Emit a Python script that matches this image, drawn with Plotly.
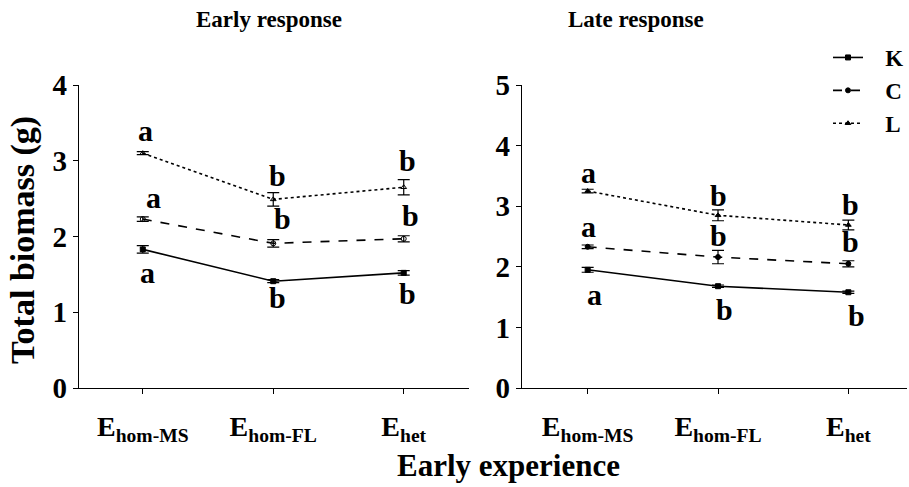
import plotly.graph_objects as go

categories = ["E<sub>hom-MS</sub>", "E<sub>hom-FL</sub>", "E<sub>het</sub>"]
series_names = ["K", "C", "L"]

# Early response
early_K = [1.83, 1.41, 1.52]
early_C = [2.23, 1.91, 1.97]
early_L = [3.10, 2.49, 2.65]
early_K_err = [0.05, 0.02, 0.03]
early_C_err = [0.03, 0.05, 0.04]
early_L_err = [0.02, 0.09, 0.10]

# Late response
late_K = [1.95, 1.68, 1.58]
late_C = [2.33, 2.16, 2.05]
late_L = [3.25, 2.85, 2.69]
late_K_err = [0.04, 0.02, 0.02]
late_C_err = [0.03, 0.11, 0.05]
late_L_err = [0.03, 0.09, 0.08]

# Significance letters (letter, category index, x offset, y value)
early_letters = [
    ("a", 0, 0.02, 3.40), ("b", 1, 0.03, 2.81), ("b", 2, 0.03, 3.00),
    ("a", 0, 0.08, 2.52), ("b", 1, 0.07, 2.24), ("b", 2, 0.05, 2.28),
    ("a", 0, 0.04, 1.52), ("b", 1, 0.03, 1.19), ("b", 2, 0.03, 1.25),
]
late_letters = [
    ("a", 0, 0.01, 3.56), ("b", 1, 0.0, 3.18), ("b", 2, 0.02, 3.02),
    ("a", 0, 0.01, 2.66), ("b", 1, 0.0, 2.52), ("b", 2, 0.02, 2.41),
    ("a", 0, 0.05, 1.55), ("b", 1, 0.05, 1.29), ("b", 2, 0.06, 1.20),
]

FONT = "Liberation Serif"
xs = [0, 1, 2]
dashes = {"K": "solid", "C": "dash", "L": "dot"}
PAD = "\u00a0\u00a0\u00a0"

fig = go.Figure()

def add_series(name, vals, errs, xaxis, yaxis, symbol, showlegend):
    fig.add_trace(go.Scatter(
        x=xs, y=vals, name=PAD + name, mode="lines+markers",
        xaxis=xaxis, yaxis=yaxis, showlegend=showlegend,
        line=dict(color="black", width=1.6, dash=dashes[name]),
        marker=dict(symbol=symbol, size=5, color="black",
                    line=dict(color="black", width=1)),
        error_y=dict(type="data", array=errs, visible=True,
                     color="black", thickness=1.2, width=6),
    ))

add_series("K", early_K, early_K_err, "x", "y", "square", False)
add_series("C", early_C, early_C_err, "x", "y", "circle-open", False)
add_series("L", early_L, early_L_err, "x", "y", "triangle-up-open", False)
add_series("K", late_K, late_K_err, "x2", "y2", "square", True)
add_series("C", late_C, late_C_err, "x2", "y2", "circle", True)
add_series("L", late_L, late_L_err, "x2", "y2", "triangle-up", True)

W, H = 909, 487

def bold(size):
    return dict(family=FONT, size=size, color="black", weight="bold")

axis_common = dict(
    showline=True, linecolor="black", linewidth=1.2,
    ticks="outside", ticklen=5, tickcolor="black", tickwidth=1.2,
    showgrid=False, zeroline=False, automargin=False,
)

fig.update_layout(
    width=W, height=H,
    margin=dict(l=0, r=0, t=0, b=0),
    paper_bgcolor="white", plot_bgcolor="white",
    xaxis=dict(domain=[79 / W, 470 / W], range=[-0.49, 2.5],
               tickvals=xs, ticktext=categories, anchor="y",
               ticklabelstandoff=8, tickfont=bold(28), **axis_common),
    yaxis=dict(domain=[1 - 388 / H, 1 - 85 / H], range=[0, 4],
               tickvals=[0, 1, 2, 3, 4], anchor="x", tickfont=bold(29), **axis_common),
    xaxis2=dict(domain=[523 / W, 1.0], range=[-0.505, 2.45],
                tickvals=xs, ticktext=categories, anchor="y2",
                ticklabelstandoff=8, tickfont=bold(28), **axis_common),
    yaxis2=dict(domain=[1 - 388 / H, 1 - 85 / H], range=[0, 5],
                tickvals=[0, 1, 2, 3, 4, 5], anchor="x2", tickfont=bold(29), **axis_common),
    legend=dict(x=830 / W, y=1 - 36 / H, xanchor="left", yanchor="top",
                font=bold(23), bgcolor="rgba(0,0,0,0)", itemwidth=30, tracegroupgap=0),
    showlegend=True,
)

annotations = []
for letter, ci, dx, yv in early_letters:
    annotations.append(dict(x=xs[ci] + dx, y=yv, xref="x", yref="y", text=letter,
                            xanchor="center", yanchor="middle",
                            showarrow=False, font=bold(30)))
for letter, ci, dx, yv in late_letters:
    annotations.append(dict(x=xs[ci] + dx, y=yv, xref="x2", yref="y2", text=letter,
                            xanchor="center", yanchor="middle",
                            showarrow=False, font=bold(30)))

annotations += [
    dict(x=270 / W, y=1 - 20 / H, xref="paper", yref="paper", text="Early response",
         xanchor="center", yanchor="middle", showarrow=False, font=bold(23)),
    dict(x=637 / W, y=1 - 20 / H, xref="paper", yref="paper", text="Late response",
         xanchor="center", yanchor="middle", showarrow=False, font=bold(23)),
    dict(x=23 / W, y=1 - 240 / H, xref="paper", yref="paper", text="Total biomass (g)",
         xanchor="center", yanchor="middle", textangle=-90, showarrow=False, font=bold(34)),
    dict(x=510 / W, y=1 - 465 / H, xref="paper", yref="paper", text="Early experience",
         xanchor="center", yanchor="middle", showarrow=False, font=bold(31)),
]
fig.update_layout(annotations=annotations)

fig.write_html("out.html")
